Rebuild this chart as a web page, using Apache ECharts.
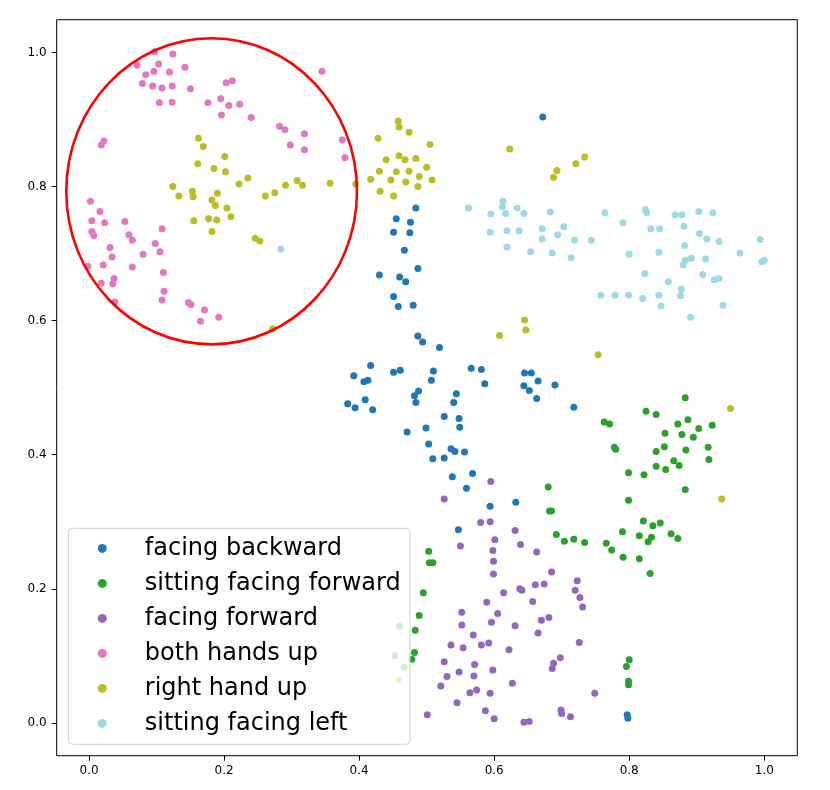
<!DOCTYPE html>
<html>
<head>
<meta charset="utf-8">
<script src="https://cdn.jsdelivr.net/npm/echarts@6/dist/echarts.min.js"></script>
<style>html,body{margin:0;padding:0;background:#fff;}#c{width:830px;height:790px;}</style>
</head>
<body>
<div id="c"></div>
<script>
const seriesNames = ['facing backward','sitting facing forward','facing forward','both hands up','right hand up','sitting facing left'];
const seriesColors = ['#1f77b4','#2ca02c','#9467bd','#e377c2','#bcbd22','#9edae5'];
const xTicks = [0, 0.2, 0.4, 0.6, 0.8, 1.0];
const yTicks = [0, 0.2, 0.4, 0.6, 0.8, 1.0];
// highlighted region: centre x, centre y, radius x, radius y (data units)
const highlight = [[0.1815, 0.793, 0.2153, 0.2283]];

const facingBackward = [[0.672,0.904],[0.484,0.768],[0.455,0.752],[0.476,0.747],[0.451,0.732],[0.475,0.731],[0.467,0.705],[0.487,0.678],[0.430,0.668],[0.460,0.665],[0.469,0.658],[0.451,0.636],[0.458,0.621],[0.480,0.623],[0.487,0.577],[0.494,0.568],[0.519,0.560],[0.417,0.533],[0.392,0.518],[0.407,0.509],[0.413,0.511],[0.451,0.523],[0.461,0.526],[0.510,0.525],[0.507,0.511],[0.566,0.529],[0.581,0.527],[0.586,0.506],[0.383,0.476],[0.394,0.470],[0.409,0.482],[0.420,0.467],[0.488,0.495],[0.482,0.488],[0.484,0.478],[0.544,0.491],[0.540,0.478],[0.645,0.522],[0.655,0.522],[0.665,0.510],[0.644,0.503],[0.652,0.496],[0.663,0.484],[0.690,0.504],[0.718,0.471],[0.526,0.457],[0.548,0.454],[0.549,0.441],[0.471,0.434],[0.499,0.440],[0.503,0.416],[0.536,0.409],[0.542,0.405],[0.556,0.404],[0.509,0.394],[0.526,0.395],[0.538,0.367],[0.568,0.372],[0.559,0.350],[0.594,0.323],[0.632,0.329],[0.547,0.288],[0.797,0.012],[0.798,0.007]];

const sittingFacingForward = [[0.680,0.352],[0.682,0.316],[0.685,0.316],[0.692,0.281],[0.704,0.271],[0.718,0.274],[0.734,0.269],[0.766,0.268],[0.503,0.256],[0.504,0.239],[0.509,0.239],[0.495,0.194],[0.489,0.160],[0.483,0.138],[0.482,0.105],[0.478,0.095],[0.460,0.144],[0.453,0.100],[0.467,0.083],[0.883,0.485],[0.825,0.465],[0.840,0.460],[0.763,0.449],[0.771,0.446],[0.872,0.446],[0.887,0.452],[0.903,0.439],[0.923,0.444],[0.853,0.432],[0.878,0.430],[0.895,0.426],[0.778,0.411],[0.780,0.408],[0.840,0.405],[0.852,0.412],[0.884,0.407],[0.917,0.411],[0.918,0.393],[0.866,0.391],[0.874,0.384],[0.840,0.383],[0.854,0.378],[0.799,0.373],[0.822,0.370],[0.883,0.348],[0.799,0.332],[0.821,0.301],[0.835,0.294],[0.846,0.298],[0.790,0.285],[0.815,0.279],[0.833,0.277],[0.828,0.270],[0.862,0.282],[0.872,0.275],[0.774,0.258],[0.791,0.247],[0.815,0.245],[0.831,0.223],[0.800,0.094],[0.796,0.084],[0.799,0.062],[0.799,0.057]];

const facingForward = [[0.595,0.360],[0.526,0.334],[0.580,0.299],[0.594,0.300],[0.631,0.287],[0.550,0.264],[0.601,0.273],[0.639,0.266],[0.598,0.257],[0.663,0.255],[0.599,0.241],[0.599,0.222],[0.685,0.225],[0.723,0.212],[0.720,0.198],[0.727,0.187],[0.731,0.173],[0.638,0.200],[0.641,0.198],[0.661,0.206],[0.674,0.207],[0.614,0.194],[0.589,0.180],[0.657,0.181],[0.552,0.165],[0.605,0.163],[0.552,0.146],[0.596,0.150],[0.631,0.145],[0.670,0.153],[0.681,0.157],[0.569,0.131],[0.665,0.134],[0.536,0.116],[0.554,0.112],[0.581,0.116],[0.592,0.119],[0.622,0.109],[0.726,0.120],[0.526,0.091],[0.571,0.087],[0.598,0.079],[0.548,0.076],[0.530,0.069],[0.570,0.070],[0.698,0.097],[0.688,0.089],[0.686,0.081],[0.521,0.055],[0.627,0.059],[0.564,0.045],[0.574,0.049],[0.594,0.044],[0.545,0.030],[0.749,0.044],[0.501,0.012],[0.587,0.018],[0.600,0.006],[0.644,0.001],[0.652,0.002],[0.699,0.019],[0.700,0.014],[0.713,0.009]];

const bothHandsUp = [[0.097,1.001],[0.124,0.998],[0.071,0.981],[0.103,0.983],[0.084,0.967],[0.096,0.972],[0.119,0.971],[0.142,0.978],[0.079,0.954],[0.094,0.950],[0.108,0.947],[0.123,0.950],[0.150,0.946],[0.203,0.955],[0.212,0.958],[0.104,0.925],[0.123,0.926],[0.176,0.925],[0.195,0.931],[0.207,0.921],[0.223,0.923],[0.196,0.907],[0.240,0.903],[0.282,0.890],[0.290,0.885],[0.319,0.879],[0.298,0.862],[0.319,0.855],[0.022,0.868],[0.018,0.862],[0.002,0.778],[0.016,0.763],[0.004,0.749],[0.023,0.746],[0.053,0.748],[0.004,0.733],[0.007,0.727],[0.059,0.728],[0.064,0.720],[0.108,0.737],[0.098,0.715],[0.105,0.703],[0.031,0.709],[0.034,0.695],[0.080,0.699],[-0.002,0.681],[0.021,0.683],[0.064,0.680],[0.110,0.672],[0.037,0.663],[0.018,0.656],[0.035,0.655],[0.111,0.644],[0.038,0.628],[0.108,0.631],[0.147,0.627],[0.151,0.624],[0.171,0.616],[0.192,0.605],[0.165,0.599],[0.345,0.972],[0.375,0.870],[0.379,0.843]];

const rightHandUp = [[0.162,0.872],[0.169,0.860],[0.201,0.845],[0.161,0.834],[0.185,0.827],[0.202,0.822],[0.235,0.813],[0.222,0.804],[0.124,0.800],[0.133,0.786],[0.153,0.793],[0.154,0.785],[0.190,0.790],[0.182,0.780],[0.187,0.772],[0.204,0.768],[0.210,0.755],[0.177,0.752],[0.189,0.750],[0.155,0.749],[0.182,0.733],[0.261,0.786],[0.275,0.791],[0.291,0.802],[0.308,0.809],[0.316,0.802],[0.246,0.723],[0.253,0.719],[0.272,0.588],[0.357,0.805],[0.395,0.804],[0.458,0.898],[0.459,0.889],[0.474,0.881],[0.428,0.872],[0.505,0.863],[0.459,0.846],[0.468,0.840],[0.484,0.842],[0.440,0.840],[0.500,0.829],[0.430,0.823],[0.455,0.822],[0.474,0.823],[0.489,0.815],[0.417,0.811],[0.447,0.810],[0.469,0.807],[0.508,0.810],[0.487,0.800],[0.431,0.793],[0.451,0.786],[0.623,0.856],[0.693,0.824],[0.688,0.814],[0.721,0.834],[0.734,0.844],[0.645,0.601],[0.647,0.586],[0.608,0.578],[0.754,0.549],[0.950,0.469],[0.937,0.334],[0.459,0.064]];

const sittingFacingLeft = [[0.284,0.707],[0.562,0.768],[0.613,0.778],[0.612,0.770],[0.634,0.768],[0.644,0.760],[0.595,0.759],[0.617,0.760],[0.683,0.762],[0.594,0.732],[0.619,0.734],[0.637,0.734],[0.671,0.737],[0.671,0.722],[0.619,0.710],[0.654,0.703],[0.686,0.701],[0.764,0.761],[0.791,0.746],[0.824,0.766],[0.826,0.761],[0.868,0.758],[0.878,0.758],[0.903,0.763],[0.924,0.761],[0.703,0.740],[0.694,0.728],[0.719,0.720],[0.744,0.720],[0.832,0.737],[0.845,0.737],[0.881,0.741],[0.904,0.730],[0.915,0.722],[0.933,0.718],[0.994,0.721],[0.882,0.712],[0.714,0.694],[0.800,0.699],[0.844,0.702],[0.883,0.690],[0.892,0.693],[0.913,0.692],[0.964,0.701],[0.880,0.683],[0.996,0.688],[1.000,0.690],[0.823,0.670],[0.858,0.658],[0.909,0.669],[0.926,0.661],[0.933,0.663],[0.877,0.647],[0.758,0.638],[0.779,0.638],[0.799,0.638],[0.820,0.633],[0.844,0.638],[0.876,0.637],[0.847,0.622],[0.939,0.623],[0.891,0.605]];

const seriesData = [facingBackward, sittingFacingForward, facingForward, bothHandsUp, rightHandUp, sittingFacingLeft];

const chart = echarts.init(document.getElementById('c'), null, {renderer: 'canvas'});
const FONT = 'DejaVu Sans';

const scatterSeries = seriesNames.map((name, i) => ({
  name: name,
  type: 'scatter',
  data: seriesData[i],
  symbol: 'circle',
  symbolSize: 7,
  itemStyle: {color: seriesColors[i], opacity: 1},
  z: 2
}));

const option = {
  animation: false,
  backgroundColor: '#fff',
  grid: {left: 56.7, right: 32.7, top: 19.7, bottom: 34.3, show: true, borderColor: '#000', borderWidth: 1, backgroundColor: 'transparent'},
  xAxis: {
    type: 'value', min: -0.048, max: 1.049,
    axisLine: {show: false, onZero: false},
    splitLine: {show: false},
    axisTick: {show: true, inside: false, length: 5, lineStyle: {color: '#000', width: 1}, customValues: xTicks},
    axisLabel: {show: true, margin: 9, color: '#000', fontFamily: FONT, fontSize: 12, customValues: xTicks, formatter: v => Number(v).toFixed(1)}
  },
  yAxis: {
    type: 'value', min: -0.049, max: 1.049,
    axisLine: {show: false, onZero: false},
    splitLine: {show: false},
    axisTick: {show: true, inside: false, length: 5, lineStyle: {color: '#000', width: 1}, customValues: yTicks},
    axisLabel: {show: true, margin: 10, color: '#000', fontFamily: FONT, fontSize: 12, customValues: yTicks, formatter: v => Number(v).toFixed(1)}
  },
  legend: {
    data: seriesNames,
    orient: 'vertical',
    left: 97.8, top: 536.4,
    padding: 0,
    icon: 'circle',
    itemWidth: 9, itemHeight: 9, itemGap: 11,
    selectedMode: false,
    textStyle: {fontFamily: FONT, fontSize: 24, lineHeight: 24, color: '#000', padding: [0, 0, 0, 33]},
    z: 5
  },
  graphic: [{
    type: 'rect', z: 4,
    shape: {x: 68.3, y: 528.3, width: 341.7, height: 216, r: 4},
    style: {fill: 'rgba(255,255,255,0.8)', stroke: '#d0d0d0', lineWidth: 1}
  }],
  series: scatterSeries.concat([{
    name: 'highlight',
    type: 'custom',
    silent: true,
    z: 3,
    data: highlight,
    renderItem: function (params, api) {
      const c = api.coord([api.value(0), api.value(1)]);
      const s = api.size([api.value(2), api.value(3)]);
      return {type: 'ellipse', shape: {cx: c[0], cy: c[1], rx: s[0], ry: s[1]}, style: {fill: null, stroke: '#ff0000', lineWidth: 2.6}};
    }
  }])
};
chart.setOption(option);
</script>
</body>
</html>
